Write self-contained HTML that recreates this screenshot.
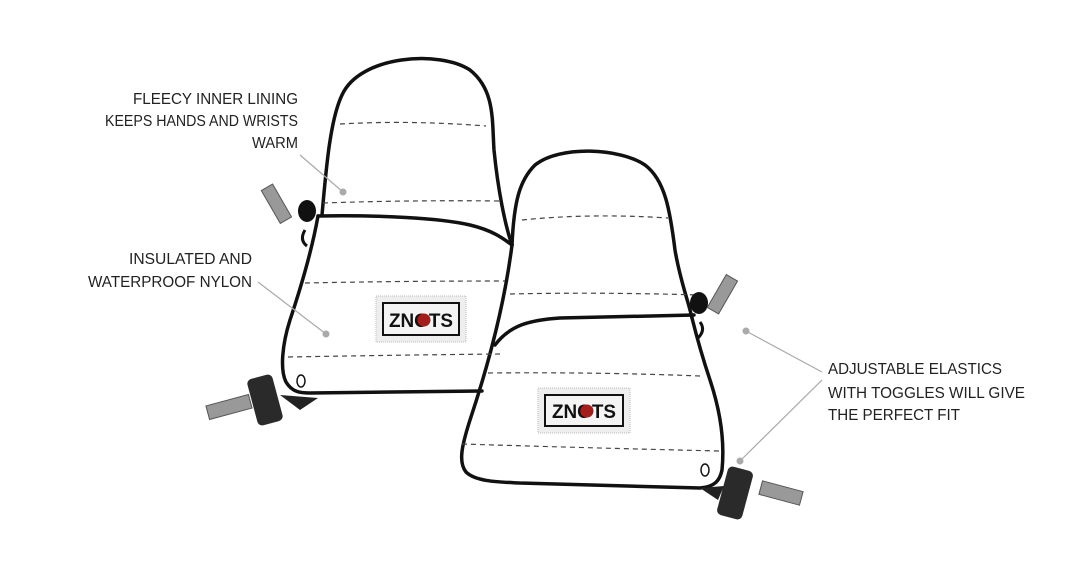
<!DOCTYPE html>
<html><head><style>
html,body{margin:0;padding:0;background:#fff;}
svg{display:block;}
text{font-family:"Liberation Sans",sans-serif;font-size:16px;fill:#222;}
</style></head><body>
<svg width="1080" height="575" viewBox="0 0 1080 575" xmlns="http://www.w3.org/2000/svg">
<g fill="none" stroke="#111" stroke-width="3.5" stroke-linecap="round" stroke-linejoin="round">
<path d="M322,215 C326,170 330,120 342,95 C360,55 440,50 470,70 C495,90 492,120 494,150 C498,190 505,225 512,245"/>
<path d="M318,216 C380,215 440,218 470,225 C495,231 505,240 512,245"/>
<path d="M318,216 C312,250 300,290 290,320 C282,345 280,370 286,382 C292,392 300,393 310,393 L482,391"/>
<path d="M512,245 C514,200 520,180 535,165 C560,145 620,148 645,165 C665,180 670,210 675,250 C680,280 688,300 692,318"/>
<path d="M495,345 C510,325 530,320 560,318 L694,315"/>
<path d="M512,245 C505,300 490,360 470,420 C462,445 458,462 466,472 C476,482 500,482 520,483 L700,488 C715,487 720,480 722,470 C725,440 720,410 710,380 C700,350 695,330 692,318"/>
</g>
<g fill="none" stroke="#444" stroke-width="1.2" stroke-dasharray="5,4">
<path d="M340,124 Q410,120 486,126"/>
<path d="M323,203 Q410,200 500,201"/>
<path d="M305,283 Q400,281 505,281"/>
<path d="M288,357 Q400,355 500,354"/>
<path d="M522,220 Q590,213 668,218"/>
<path d="M510,294 Q600,292 698,295"/>
<path d="M488,373 Q600,372 700,376"/>
<path d="M462,444 Q590,448 720,451"/>
</g>
<g>
<rect x="376" y="296" width="90" height="46" fill="#eee" stroke="#bbb" stroke-dasharray="1,1"/>
<rect x="383" y="303" width="76" height="32" fill="#f4f4f4" stroke="#111" stroke-width="2"/>
<text x="421" y="327" text-anchor="middle" textLength="64" lengthAdjust="spacingAndGlyphs" style="font-weight:bold;font-size:19px;fill:#111">ZNOTS</text>
<circle cx="424" cy="320" r="6.5" fill="#a31d1d"/>
<rect x="538" y="388" width="92" height="45" fill="#eee" stroke="#bbb" stroke-dasharray="1,1"/>
<rect x="545" y="395" width="78" height="31" fill="#f4f4f4" stroke="#111" stroke-width="2"/>
<text x="584" y="418" text-anchor="middle" textLength="64" lengthAdjust="spacingAndGlyphs" style="font-weight:bold;font-size:19px;fill:#111">ZNOTS</text>
<circle cx="587" cy="411" r="6.5" fill="#a31d1d"/>
</g>
<g>
<ellipse cx="307" cy="211" rx="9" ry="11" fill="#111"/>
<rect x="270" y="185" width="13" height="38" fill="#999" stroke="#555" transform="rotate(-30 276 204)"/>
<path d="M305,230 q-6,10 2,16" stroke="#111" stroke-width="3" fill="none"/>
<ellipse cx="699" cy="303" rx="9" ry="11" fill="#111"/>
<rect x="716" y="275" width="13" height="38" fill="#999" stroke="#555" transform="rotate(30 722 294)"/>
<path d="M700,322 q6,8 -2,16" stroke="#111" stroke-width="3" fill="none"/>
<rect x="252" y="376" width="26" height="48" rx="5" fill="#2a2a2a" transform="rotate(-15 265 400)"/>
<rect x="207" y="400" width="44" height="14" fill="#999" stroke="#555" transform="rotate(-15 229 407)"/>
<path d="M280,395 L318,398 L300,410 Z" fill="#222"/>
<ellipse cx="301" cy="381" rx="4" ry="6" fill="none" stroke="#111" stroke-width="1.5"/>
<rect x="722" y="468" width="26" height="50" rx="5" fill="#2a2a2a" transform="rotate(15 735 493)"/>
<rect x="760" y="486" width="42" height="14" fill="#999" stroke="#555" transform="rotate(15 781 493)"/>
<path d="M700,488 L724,486 L718,500 Z" fill="#222"/>
<ellipse cx="705" cy="470" rx="4" ry="6" fill="none" stroke="#111" stroke-width="1.5"/>
</g>
<g stroke="#aaa" stroke-width="1.2" fill="#aaa">
<line x1="300" y1="155" x2="343" y2="192"/><circle cx="343" cy="192" r="3.5" stroke="none"/>
<line x1="258" y1="282" x2="326" y2="334"/><circle cx="326" cy="334" r="3.5" stroke="none"/>
<line x1="746" y1="331" x2="822" y2="372"/><circle cx="746" cy="331" r="3.5" stroke="none"/>
<line x1="822" y1="380" x2="740" y2="461"/><circle cx="740" cy="461" r="3.5" stroke="none"/>
</g>
<g>
<text x="298" y="104" text-anchor="end" textLength="165" lengthAdjust="spacingAndGlyphs">FLEECY INNER LINING</text>
<text x="298" y="126" text-anchor="end" textLength="193" lengthAdjust="spacingAndGlyphs">KEEPS HANDS AND WRISTS</text>
<text x="298" y="148" text-anchor="end" textLength="46" lengthAdjust="spacingAndGlyphs">WARM</text>
<text x="252" y="264" text-anchor="end" textLength="123" lengthAdjust="spacingAndGlyphs">INSULATED AND</text>
<text x="252" y="287" text-anchor="end" textLength="164" lengthAdjust="spacingAndGlyphs">WATERPROOF NYLON</text>
<text x="828" y="374" textLength="174" lengthAdjust="spacingAndGlyphs">ADJUSTABLE ELASTICS</text>
<text x="828" y="398" textLength="197" lengthAdjust="spacingAndGlyphs">WITH TOGGLES WILL GIVE</text>
<text x="828" y="420" textLength="132" lengthAdjust="spacingAndGlyphs">THE PERFECT FIT</text>
</g>
</svg>
</body></html>
